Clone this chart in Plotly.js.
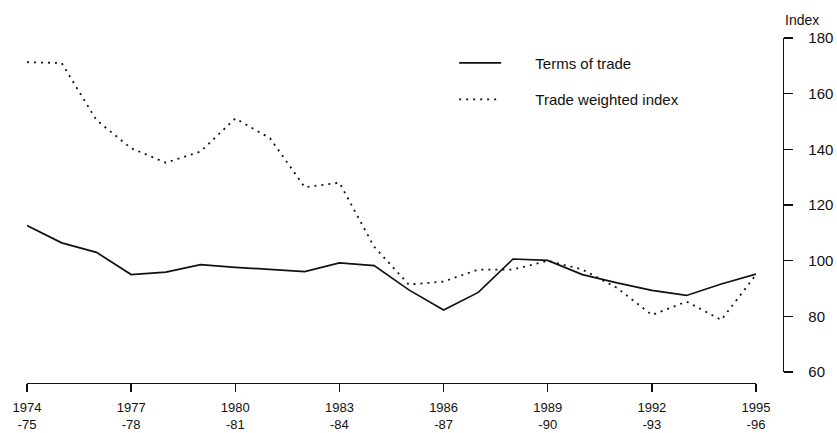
<!DOCTYPE html>
<html>
<head>
<meta charset="utf-8">
<script src="https://cdn.plot.ly/plotly-3.0.1.min.js"></script>
<style>
  html, body { margin: 0; padding: 0; background: #fff; }
  #chart { width: 837px; height: 433px; }
</style>
</head>
<body>
<div id="chart"></div>
<script>
const years = [1974, 1975, 1976, 1977, 1978, 1979, 1980, 1981, 1982, 1983, 1984,
               1985, 1986, 1987, 1988, 1989, 1990, 1991, 1992, 1993, 1994, 1995];
const termsOfTrade = [112.6, 106.4, 103.0, 95.0, 95.9, 98.6, 97.6, 96.8, 96.1, 99.2, 98.2,
                      89.5, 82.3, 88.6, 100.6, 100.1, 95.0, 92.0, 89.3, 87.5, 91.6, 95.2];
const tradeWeighted = [171.3, 171.0, 150.5, 140.4, 135.2, 139.2, 151.1, 144.0, 126.4, 128.0, 105.0,
                       91.4, 92.5, 96.8, 96.8, 100.0, 96.8, 90.2, 80.5, 85.3, 78.7, 95.0];
const tickYears = [1974, 1977, 1980, 1983, 1986, 1989, 1992, 1995];
const tickLabels = ['1974<br>-75', '1977<br>-78', '1980<br>-81', '1983<br>-84',
                    '1986<br>-87', '1989<br>-90', '1992<br>-93', '1995<br>-96'];
const yTicks = [60, 80, 100, 120, 140, 160, 180];
const seriesNames = ['Terms of trade', 'Trade weighted index'];

const FONT = 'Liberation Sans, Arial, Helvetica, sans-serif';
const PAD = '\u00A0\u00A0\u00A0\u00A0\u00A0\u00A0\u00A0';

const traces = [
  {
    x: years, y: termsOfTrade, name: PAD + seriesNames[0], type: 'scatter', mode: 'lines',
    line: { color: '#111', width: 1.7 }, legendgroup: 'a', hoverinfo: 'skip'
  },
  {
    x: years, y: tradeWeighted, name: PAD + seriesNames[1], type: 'scatter', mode: 'lines',
    line: { color: '#111', width: 1.8, dash: '2px,5px' }, legendgroup: 'b', hoverinfo: 'skip'
  }
];

const layout = {
  width: 837, height: 433,
  margin: { l: 27, r: 54, t: 38, b: 50 },
  paper_bgcolor: '#fff', plot_bgcolor: '#fff',
  font: { family: FONT, size: 14, color: '#111' },
  showlegend: true,
  legend: {
    x: 0.565, y: 0.975, xanchor: 'left', yanchor: 'top',
    bgcolor: 'rgba(0,0,0,0)', borderwidth: 0,
    font: { family: FONT, size: 15, color: '#111' },
    traceorder: 'grouped', tracegroupgap: 14, itemwidth: 42
  },
  xaxis: {
    domain: [0, 0.9643],
    range: [1974, 1995],
    anchor: 'free', position: 0,
    tickmode: 'array', tickvals: tickYears, ticktext: tickLabels,
    ticks: 'outside', ticklen: 8, tickwidth: 1.3, tickcolor: '#111',
    showline: true, linecolor: '#111', linewidth: 1.3,
    showgrid: false, zeroline: false,
    ticklabelstandoff: 4,
    tickfont: { family: FONT, size: 13, color: '#111' }
  },
  yaxis: {
    domain: [0.0319, 1],
    range: [60, 180],
    side: 'right', anchor: 'free', position: 1,
    tickmode: 'array', tickvals: yTicks,
    ticks: 'outside', ticklen: 9, tickwidth: 1.3, tickcolor: '#111',
    showline: true, linecolor: '#111', linewidth: 1.3,
    showgrid: false, zeroline: false,
    ticklabelstandoff: 12,
    tickfont: { family: FONT, size: 15, color: '#111' }
  },
  annotations: [
    {
      text: 'Index', xref: 'paper', yref: 'paper', x: 1.025, y: 1.052,
      xanchor: 'center', yanchor: 'middle', showarrow: false,
      font: { family: FONT, size: 14, color: '#111' }
    }
  ]
};

Plotly.newPlot('chart', traces, layout, { staticPlot: true, displayModeBar: false });
</script>
</body>
</html>
